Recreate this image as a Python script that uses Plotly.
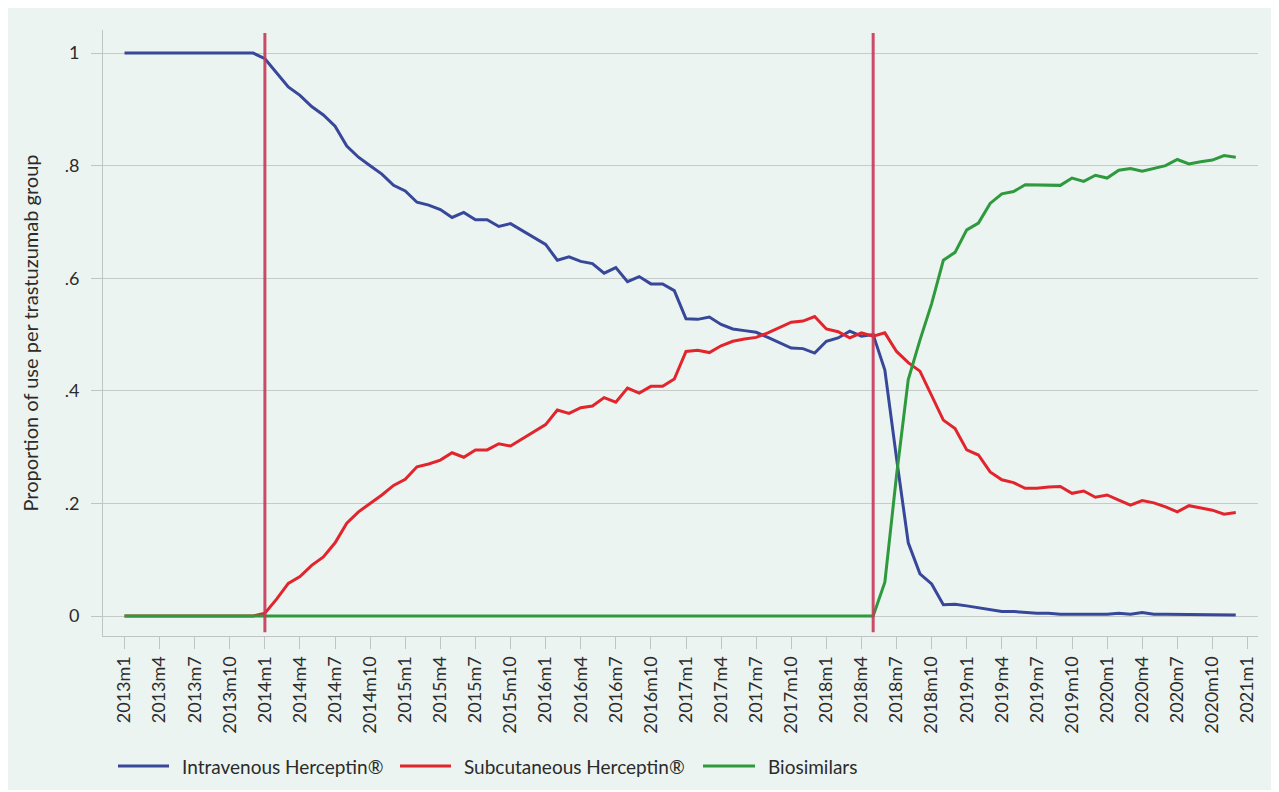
import plotly.graph_objects as go

# Months 2013m1 .. 2020m12 (index 0..95)
years = list(range(2013, 2022))
tick_labels = [f"{y}m{m}" for y in years for m in (1, 4, 7, 10)][:33]  # 2013m1 .. 2021m1
tick_positions = list(range(0, 97, 3))

intravenous = [
    1.0, 1.0, 1.0, 1.0, 1.0, 1.0, 1.0, 1.0, 1.0, 1.0, 1.0, 1.0,
    0.99, 0.965, 0.94, 0.925, 0.905, 0.89, 0.87, 0.835, 0.815, 0.8, 0.785, 0.765,
    0.755, 0.735, 0.73, 0.722, 0.708, 0.717, 0.704, 0.704, 0.692, 0.697, 0.685, 0.672,
    0.66, 0.632, 0.638, 0.63, 0.626, 0.609, 0.619, 0.594, 0.603, 0.59, 0.59, 0.578,
    0.528, 0.527, 0.531, 0.518, 0.51, 0.507, 0.504, 0.495, 0.485, 0.476, 0.475, 0.467,
    0.488, 0.494, 0.506, 0.497, 0.5, 0.437, 0.28, 0.13, 0.075, 0.057, 0.02, 0.021,
    0.018, 0.015, 0.011, 0.008, 0.008, 0.006, 0.005, 0.005, 0.003, 0.003, 0.003, 0.004,
    0.003, 0.005, 0.003, 0.006, 0.003, 0.003, 0.003, 0.003, 0.002, 0.002, 0.002, 0.002,
]

subcutaneous = [
    0, 0, 0, 0, 0, 0, 0, 0, 0, 0, 0, 0,
    0.005, 0.03, 0.058, 0.07, 0.09, 0.105, 0.13, 0.165, 0.185, 0.2, 0.215, 0.232,
    0.243, 0.265, 0.27, 0.277, 0.29, 0.282, 0.295, 0.295, 0.306, 0.302, 0.315, 0.328,
    0.34, 0.366, 0.36, 0.37, 0.373, 0.388, 0.38, 0.405, 0.396, 0.408, 0.408, 0.421,
    0.47, 0.472, 0.468, 0.48, 0.488, 0.492, 0.495, 0.503, 0.512, 0.522, 0.524, 0.532,
    0.51, 0.505, 0.494, 0.503, 0.497, 0.503, 0.47, 0.45, 0.435, 0.39, 0.348, 0.333,
    0.295, 0.286, 0.256, 0.242, 0.237, 0.227, 0.227, 0.229, 0.23, 0.218, 0.222, 0.211,
    0.215, 0.206, 0.197, 0.205, 0.201, 0.194, 0.185, 0.196, 0.192, 0.188, 0.181, 0.184,
]

biosimilars = [0] * 65 + [
    0.06, 0.25, 0.42, 0.49, 0.555, 0.632, 0.646,
    0.686, 0.698, 0.733, 0.75, 0.754, 0.766, 0.766, 0.766, 0.765, 0.778, 0.772, 0.783,
    0.778, 0.792, 0.795, 0.79, 0.795, 0.8, 0.811, 0.803, 0.807, 0.81, 0.818, 0.815,
]

months = list(range(len(intravenous)))
event_months = [12, 64]  # 2014m1, 2018m5

series_names = ["Intravenous Herceptin®", "Subcutaneous Herceptin®", "Biosimilars"]
series_values = [intravenous, subcutaneous, biosimilars]
series_colors = ["#37479a", "#e2252d", "#2f993d"]

bg = "#ecf4f1"
font_family = "Lato, 'Open Sans', sans-serif"
txt = "#2b2b2b"

# plot area geometry in page pixels (for placing the legend row below it)
plot_left, plot_right, plot_top, plot_bottom = 103, 1258, 30, 636
pw, ph = plot_right - plot_left, plot_bottom - plot_top
legend_row_y = 766
legend_line_x = [(118, 169), (400, 451), (703, 755)]
legend_text_x = [181, 463, 767]


def px_x(p):
    return (p - plot_left) / pw


def px_y(p):
    return (plot_bottom - p) / ph


fig = go.Figure()
for name, vals, col in zip(series_names, series_values, series_colors):
    fig.add_trace(go.Scatter(x=months, y=vals, mode="lines", name=name,
                             line=dict(color=col, width=3), showlegend=False))

for m in event_months:
    fig.add_shape(type="line", xref="x", yref="paper", x0=m, x1=m, y0=0.006, y1=0.995,
                  line=dict(color="#c8385a", width=3), layer="above", opacity=0.9)

# legend row
ly = px_y(legend_row_y)
for name, col, (x0, x1), tx in zip(series_names, series_colors, legend_line_x, legend_text_x):
    fig.add_shape(type="line", xref="paper", yref="paper", x0=px_x(x0), x1=px_x(x1),
                  y0=ly, y1=ly, line=dict(color=col, width=3))
    fig.add_annotation(text=name, xref="paper", yref="paper", x=px_x(tx), y=ly,
                       xanchor="left", yanchor="middle", showarrow=False,
                       font=dict(size=19, color=txt, family=font_family), borderpad=0)

fig.update_layout(
    width=1279, height=782,
    margin=dict(l=95, r=29, t=22, b=154),
    paper_bgcolor=bg, plot_bgcolor=bg,
    font=dict(family=font_family, size=18, color=txt),
    showlegend=False,
    xaxis=dict(range=[-1.84, 96.9], tickmode="array", tickvals=tick_positions,
               ticktext=tick_labels, tickangle=-90, showgrid=False, zeroline=False,
               showline=True, linecolor="#c0c4c3", linewidth=1,
               ticks="outside", ticklen=12, tickcolor="#c0c4c3",
               tickfont=dict(size=18, color=txt)),
    yaxis=dict(range=[-0.0355, 1.041], tickmode="array",
               tickvals=[0, 0.2, 0.4, 0.6, 0.8, 1],
               ticktext=["0", ".2", ".4", ".6", ".8", "1"],
               showgrid=True, gridcolor="#c6cac9", gridwidth=1, zeroline=False,
               showline=True, linecolor="#c0c4c3", linewidth=1,
               ticks="outside", ticklen=11, tickcolor="#c0c4c3",
               ticklabelstandoff=8,
               tickfont=dict(size=18, color=txt),
               title=dict(text="Proportion of use per trastuzumab group",
                          font=dict(size=20, color=txt), standoff=20)),
)

fig.write_html("out.html")
